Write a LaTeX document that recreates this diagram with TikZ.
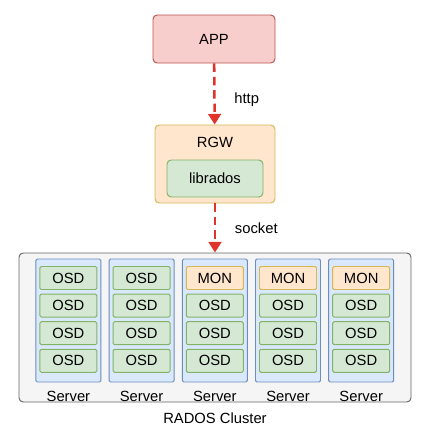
\documentclass[tikz,border=0pt]{standalone}
\usepackage{fontspec}
\setmainfont{Liberation Sans}
\usepackage{tikz}
\usetikzlibrary{arrows.meta,positioning}
\usepackage{xcolor}
\definecolor{rdFill}{HTML}{F8CECC}
\definecolor{rdLine}{HTML}{B85450}
\definecolor{orFill}{HTML}{FFE6CC}
\definecolor{orLine}{HTML}{D6B656}
\definecolor{gnFill}{HTML}{D5E8D4}
\definecolor{gnLine}{HTML}{82B366}
\definecolor{blFill}{HTML}{DAE8FC}
\definecolor{blLine}{HTML}{6C8EBF}
\definecolor{gyFill}{HTML}{F5F5F5}
\definecolor{gyLine}{HTML}{666666}
\definecolor{flowRed}{HTML}{E0332B}
\tikzset{
    box/.style={rectangle,rounded corners=3pt,line width=0.7pt,align=center,inner sep=0pt},
    appbox/.style={box,draw=rdLine,fill=rdFill,minimum width=3.05cm,minimum height=1.2cm},
    gwbox/.style={box,draw=orLine,fill=orFill,minimum width=3.0cm,minimum height=1.95cm},
    libbox/.style={box,draw=gnLine,fill=gnFill,minimum width=2.4cm,minimum height=0.925cm},
    clusterbox/.style={box,draw=gyLine,fill=gyFill,minimum width=9.8cm,minimum height=3.725cm},
    serverbox/.style={box,rounded corners=1pt,draw=blLine,fill=blFill,minimum width=1.625cm,minimum height=3.075cm},
    osdbox/.style={box,rounded corners=1pt,draw=gnLine,fill=gnFill,minimum width=1.425cm,minimum height=0.575cm},
    monbox/.style={osdbox,draw=orLine,fill=orFill},
    flow/.style={-{Triangle[length=7.5pt,width=9pt]},line width=1.8pt,flowRed,dash pattern=on 6pt off 3.5pt}
}

\begin{document}
\begin{tikzpicture}[font=\fontsize{10.5}{12.5}\selectfont]
    \useasboundingbox (0,0) rectangle (10.8,-10.825);
    % Client side
    \node[appbox] at (5.35,-0.975) (app) {APP};
    \node[gwbox] at (5.375,-4.1) (rgw) {};
    \node[below=0.2cm of rgw.north] (rgwtxt) {RGW};
    \node[libbox] at (5.375,-4.4625) (lib) {librados};
    % Cluster
    \node[clusterbox] at (5.375,-8.1875) (rados) {};
    \node at (5.375,-10.45) (radostxt) {RADOS Cluster};
    \foreach \i in {1,...,5} {
        \node[serverbox] at ({1.71+1.83*(\i-1)},-8.0125) (srv\i) {};
        \node at ({1.71+1.83*(\i-1)},-9.9) (srvtxt\i) {Server};
        \foreach \j in {2,3,4}
            \node[osdbox] at ({1.71+1.83*(\i-1)},{-6.95-0.69*(\j-1)}) (osd\i\j) {OSD};
    }
    \foreach \i in {1,2}
        \node[osdbox] at ({1.71+1.83*(\i-1)},-6.95) (osd\i1) {OSD};
    \foreach \i in {3,4,5}
        \node[monbox] at ({1.71+1.83*(\i-1)},-6.95) (mon\i) {MON};
    % Arrows
    \draw[flow] (app) -- node[right=0.35cm,yshift=-0.15cm,text=black]{http} (rgw);
    \draw[flow] (rgw) -- node[right=0.35cm,text=black]{socket} (rados);
\end{tikzpicture}
\end{document}
